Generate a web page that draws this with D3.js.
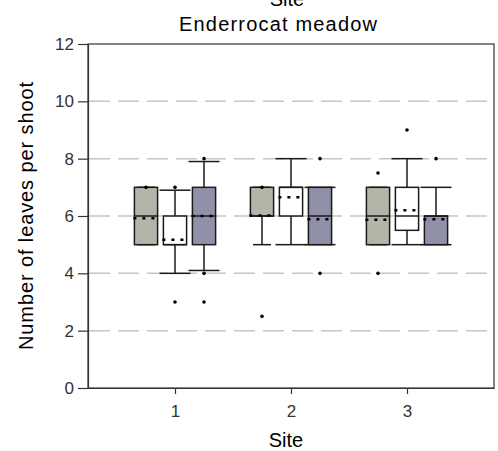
<!DOCTYPE html>
<html><head><meta charset="utf-8">
<script src="https://cdn.jsdelivr.net/npm/d3@7"></script>
<style>body{margin:0;background:#fff}svg{display:block}text{font-family:"Liberation Sans",Arial,sans-serif}</style>
</head><body><svg id="c" width="498" height="451"></svg>
<script>
// ---- data ----
const sites = [1, 2, 3];
const seriesFill = ["#b4b4a8", "#ffffff", "#9090a8"];
const yTicks = [0, 2, 4, 6, 8, 10, 12];
const gridValues = [2, 4, 6, 8, 10];
// per site, per series [gray, white, blue]
const lowerWhisker = [[5, 4, 4.1], [5, 5, 5], [5, 5, 5]];
const q1 = [[5, 5, 5], [6, 6, 5], [5, 5.5, 5]];
const median = [[6, 5, 6], [6, 7, 6], [6, 6, 6]];
const q3 = [[7, 6, 7], [7, 7, 7], [7, 7, 6]];
const upperWhisker = [[7, 6.9, 7.9], [7, 8, 7], [7, 8, 7]];
const mean = [[5.92, 5.17, 6.0], [6.02, 6.65, 5.89], [5.87, 6.2, 5.89]];
const outliers = [[[7], [7, 3], [8, 4, 3]], [[7, 2.5], [], [8, 4]], [[7.5, 4], [9], [8]]];

// ---- layout ----
const L = 88, R = 494, T = 44, B = 388;
const svg = d3.select("#c");
const x = d3.scaleLinear().domain([0.25, 3.75]).range([L, R]);
const y = d3.scaleLinear().domain([0, 12]).range([B, T]);
const offsets = [-0.25, 0, 0.25];
const boxW = x(1.2) - x(1);
const capW = [18, 31, 31];

// grid
svg.append("g").selectAll("line").data(gridValues).join("line")
  .attr("x1", L + 1).attr("x2", R).attr("y1", d => y(d)).attr("y2", d => y(d))
  .attr("stroke", "#c8c8be").attr("stroke-width", 1.5).attr("stroke-dasharray", "21,8");

// boxes
const g = svg.append("g");
sites.forEach((s, i) => {
  [0, 1, 2].forEach(j => {
    const cx = x(s + offsets[j]);
    const x0 = cx - boxW / 2;
    const col = "#1a1a1a";
    g.append("line").attr("x1", cx).attr("x2", cx).attr("y1", y(lowerWhisker[i][j])).attr("y2", y(q1[i][j]))
      .attr("stroke", col).attr("stroke-width", 1.5);
    g.append("line").attr("x1", cx).attr("x2", cx).attr("y1", y(q3[i][j])).attr("y2", y(upperWhisker[i][j]))
      .attr("stroke", col).attr("stroke-width", 1.5);
    [lowerWhisker[i][j], upperWhisker[i][j]].forEach(v => {
      g.append("line").attr("x1", cx - capW[j] / 2).attr("x2", cx + capW[j] / 2).attr("y1", y(v)).attr("y2", y(v))
        .attr("stroke", col).attr("stroke-width", 1.5);
    });
    g.append("rect").attr("x", x0).attr("width", boxW)
      .attr("y", y(q3[i][j])).attr("height", y(q1[i][j]) - y(q3[i][j]))
      .attr("fill", seriesFill[j]).attr("stroke", col).attr("stroke-width", 1.5);
    g.append("line").attr("x1", x0).attr("x2", x0 + boxW).attr("y1", y(median[i][j])).attr("y2", y(median[i][j]))
      .attr("stroke", col).attr("stroke-width", 1.5);
    g.append("line").attr("x1", x0 - 1).attr("x2", x0 + boxW).attr("y1", y(mean[i][j])).attr("y2", y(mean[i][j]))
      .attr("stroke", "#000").attr("stroke-width", 2.5).attr("stroke-dasharray", "3,6");
    outliers[i][j].forEach(v => {
      g.append("circle").attr("cx", cx).attr("cy", y(v)).attr("r", 1.8).attr("fill", "#000");
    });
  });
});

// frame
svg.append("rect").attr("x", L).attr("y", T).attr("width", R - L).attr("height", B - T)
  .attr("fill", "none").attr("stroke", "#333").attr("stroke-width", 1.2);

// axes
const ay = svg.append("g").attr("transform", `translate(${L},0)`)
  .call(d3.axisLeft(y).tickValues(yTicks).tickSize(10).tickSizeOuter(0).tickPadding(4));
const ax = svg.append("g").attr("transform", `translate(0,${B})`)
  .call(d3.axisBottom(x).tickValues(sites).tickFormat(d3.format("d")).tickSize(6).tickSizeOuter(0).tickPadding(11));
[ay, ax].forEach(a => {
  a.attr("font-size", null).attr("font-family", null);
  a.selectAll("path,line").attr("stroke", "#333").attr("stroke-width", 1.2);
  a.selectAll("text").attr("fill", "#333").attr("font-size", 17).style("font-size", "17px");
});

// titles
svg.append("text").attr("x", 287).attr("y", 6).attr("text-anchor", "middle").style("font-size", "20px").text("Site");
svg.append("text").attr("x", 179).attr("y", 31).attr("textLength", 198).attr("lengthAdjust", "spacing")
  .style("font-size", "20px").text("Enderrocat meadow");
svg.append("text").attr("x", 286).attr("y", 447).attr("text-anchor", "middle").style("font-size", "20px").text("Site");
svg.append("text").attr("transform", "translate(33,350) rotate(-90)").attr("textLength", 268).attr("lengthAdjust", "spacing")
  .style("font-size", "20px").text("Number of leaves per shoot");
</script></body></html>
